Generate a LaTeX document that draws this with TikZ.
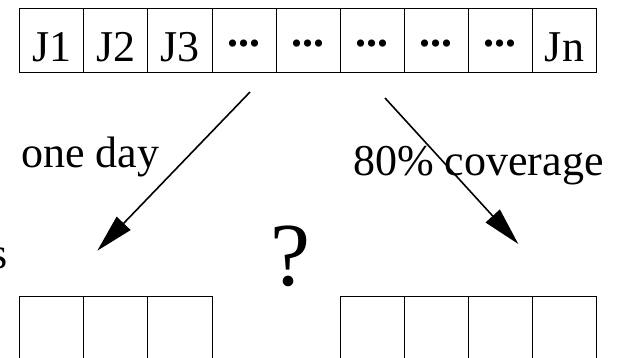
\documentclass[tikz,border=0pt]{standalone}
\usepackage{fontspec}
\setmainfont{Liberation Serif}
\usetikzlibrary{arrows.meta,calc}
\begin{document}
\begin{tikzpicture}[x=1pt,y=-1pt,
  cell/.style={draw, line width=1pt, minimum width=64.08pt, minimum height=63.7pt, inner sep=0pt, anchor=north west},
  lab/.style={font=\fontsize{44}{52}\selectfont, inner sep=0pt, anchor=base},
  arr/.style={line width=1.6pt, -{Triangle[length=38pt,width=19pt]}}]
\useasboundingbox (0,0) rectangle (617,357);
\clip (0,0) rectangle (617,357);
% top row
\foreach \i in {1,...,9} \node[cell] (t\i) at ({19.3+64.08*(\i-1)},8) {};
\node[lab] (j1) at ($(t1.south)+(0,-11)$) {J1};
\node[lab] (j2) at ($(t2.south)+(0,-11)$) {J2};
\node[lab] (j3) at ($(t3.south)+(0,-11)$) {J3};
\foreach \i in {4,...,8} \node[lab] (d\i) at ($(t\i.south)+(0,-26.2)$) {\textbf{...}};
\node[lab] (jn) at ($(t9.south)+(0,-11)$) {Jn};
% arrows
\coordinate (a1s) at (250,92);
\coordinate (a1e) at (97.3,250.7);
\coordinate (a2s) at (385,98);
\coordinate (a2e) at (518.3,244);
\draw[arr] (a1s) -- (a1e);
\draw[arr] (a2s) -- (a2e);
% labels
\node[lab, anchor=base west] (oneday) at (21,167) {one day};
\node[lab, anchor=base west] (cov) at (353,175) {80\% coverage};
\node[font=\fontsize{90}{100}\selectfont, inner sep=0pt, anchor=base] (q) at (290.5,285) {?};
\node[lab, anchor=base east] (s) at (7.5,268) {s};
% bottom rows
\foreach \i in {1,2,3} \node[cell] (l\i) at ({19.3+64.08*(\i-1)},296.3) {};
\foreach \i in {1,...,4} \node[cell] (r\i) at ({19.3+64.08*(\i+4)},296.3) {};
\end{tikzpicture}
\end{document}
